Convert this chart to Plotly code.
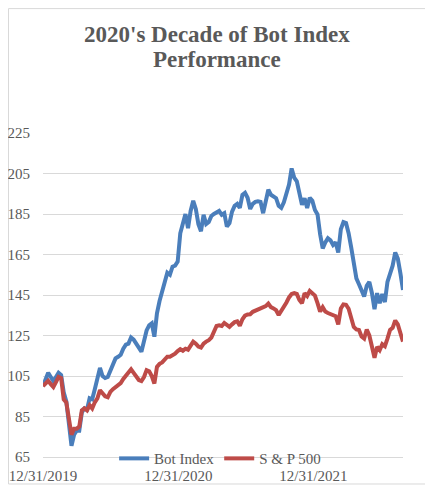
import pandas as pd
import plotly.graph_objects as go

start_date = "2019-12-31"

bot_index = [
    100, 103.5, 106.6, 104.5, 102.5, 104.5, 106.6, 105.5, 97, 92.5,
    80, 70.5, 76, 78, 78, 87, 89, 88.5, 94, 93.5,
    98.5, 103.8, 109, 105, 104, 104.5, 108, 111.5, 113.7, 114.5,
    115.5, 118.5, 120.5, 121, 124, 123, 120.5, 119, 117, 122.5,
    127.5, 130, 131, 124.4, 136, 142, 146.5, 152.5, 156, 155,
    159, 159.5, 161.5, 175.5, 179.5, 185, 178, 186.5, 191.5, 187.5,
    180, 176.5, 184.6, 180, 181, 184, 185, 186, 186.5, 184.6,
    185.4, 178.8, 180.5, 186.2, 189, 190, 188, 194.5, 195.5, 193,
    187.5, 190, 191, 191.3, 191, 185.4, 191, 197, 194.5, 193.5,
    192.8, 189, 188, 190.8, 194.5, 199.5, 207.5, 203, 201.1, 195.5,
    189.5, 192.8, 188, 193, 191.5, 187, 184.8, 175, 168, 171,
    173, 172, 169.7, 171, 166, 177.5, 181, 180.5, 175.5, 168.5,
    160.5, 153.2, 150.3, 147, 144.3, 149.5, 151.5, 146, 138, 145.9,
    140.9, 145.5, 141.5, 151.5, 156, 159.5, 166, 163, 155.7, 147.5,
]

sp500 = [
    100, 101.5, 102.6, 101, 99.6, 102, 104.6, 104, 93.5, 92,
    84, 76, 79, 79, 80, 88, 89, 88, 90.5, 89,
    92, 94, 98, 96.8, 95, 94.5, 97.2, 98.5, 99.7, 100.5,
    101.5, 103.5, 105, 106.3, 108.3, 106.5, 104.5, 103, 102.5, 104.5,
    107.9, 107.3, 105, 101.3, 109.5, 111, 111.7, 113.5, 114.5, 114.5,
    115, 116, 117.3, 118.3, 117.5, 118.5, 118, 120, 122, 121,
    119.5, 119, 121, 122, 122.7, 124, 127.5, 129.7, 130, 129.7,
    131.2, 130, 129.3, 130.5, 131.6, 132, 129.8, 133, 134.8, 135.4,
    135.5, 136.7, 137.2, 137.8, 138.5, 139, 139.5, 140.8, 139, 138.4,
    137.5, 135.1, 137, 139.5, 141.3, 143.8, 145.5, 145.9, 145.5, 142.5,
    140.9, 145.9, 144.5, 147, 145.5, 144.7, 141, 136.8, 139, 136.8,
    136.1, 135.6, 135.1, 134.5, 130.5, 138.3, 140.4, 140.2, 138.2, 134.3,
    129.2, 128, 127.7, 124.5, 123.5, 128, 125, 119.6, 114, 119.4,
    117.8, 120.7, 119.7, 123.5, 127.8, 128.8, 132.4, 130.5, 126, 122,
]

tick_dates = ["2019-12-31", "2020-12-31", "2021-12-31"]
tick_labels = ["12/31/2019", "12/31/2020", "12/31/2021"]
series_names = ["Bot Index", "S & P 500"]
title_lines = ["2020's Decade of Bot Index", "Performance"]

dates = pd.date_range(start=start_date, periods=len(bot_index), freq="7D")

GRAY = "#595959"
GRID = "#D9D9D9"
FONT = "Liberation Serif"

fig = go.Figure()
fig.add_trace(go.Scatter(x=dates, y=bot_index, mode="lines", name=series_names[0],
                         line=dict(color="#4A7EBB", width=4)))
fig.add_trace(go.Scatter(x=dates, y=sp500, mode="lines", name=series_names[1],
                         line=dict(color="#BE4B48", width=4)))

title_annotations = [
    dict(text="<b>%s</b>" % title_lines[0], xref="paper", yref="paper", x=0.482, y=1.303,
         xanchor="center", yanchor="middle", showarrow=False,
         font=dict(family=FONT, size=23, color=GRAY)),
    dict(text="<b>%s</b>" % title_lines[1], xref="paper", yref="paper", x=0.482, y=1.226,
         xanchor="center", yanchor="middle", showarrow=False,
         font=dict(family=FONT, size=23, color=GRAY)),
]

fig.update_layout(
    width=425, height=488,
    margin=dict(l=35, r=30, t=125, b=39),
    paper_bgcolor="white", plot_bgcolor="white",
    font=dict(family=FONT, size=15, color=GRAY),
    annotations=title_annotations,
    showlegend=True,
    legend=dict(orientation="h", x=0.492, xanchor="center", y=-0.005, yanchor="middle",
                bgcolor="rgba(0,0,0,0)", font=dict(family=FONT, size=15, color=GRAY),
                itemwidth=30, tracegroupgap=0),
    xaxis=dict(range=[dates[0], dates[-1]], tickvals=tick_dates, ticktext=tick_labels,
               showgrid=False, showline=True, linecolor=GRID, linewidth=1,
               ticks="outside", ticklen=5, tickcolor="rgba(0,0,0,0)", automargin=False,
               tickfont=dict(family=FONT, size=15, color=GRAY), zeroline=False),
    yaxis=dict(range=[65, 225], tick0=65, dtick=20, showgrid=True, gridcolor=GRID,
               gridwidth=1, showline=False, zeroline=False, automargin=False,
               ticks="outside", ticklen=9, tickcolor="rgba(0,0,0,0)",
               tickfont=dict(family=FONT, size=15, color=GRAY)),
    shapes=[dict(type="rect", xref="paper", yref="paper",
                 x0=-0.0958, x1=1.075, y0=-0.0833, y1=1.384,
                 line=dict(color=GRID, width=1), fillcolor="rgba(0,0,0,0)", layer="below")],
)

fig.write_html("out.html")
